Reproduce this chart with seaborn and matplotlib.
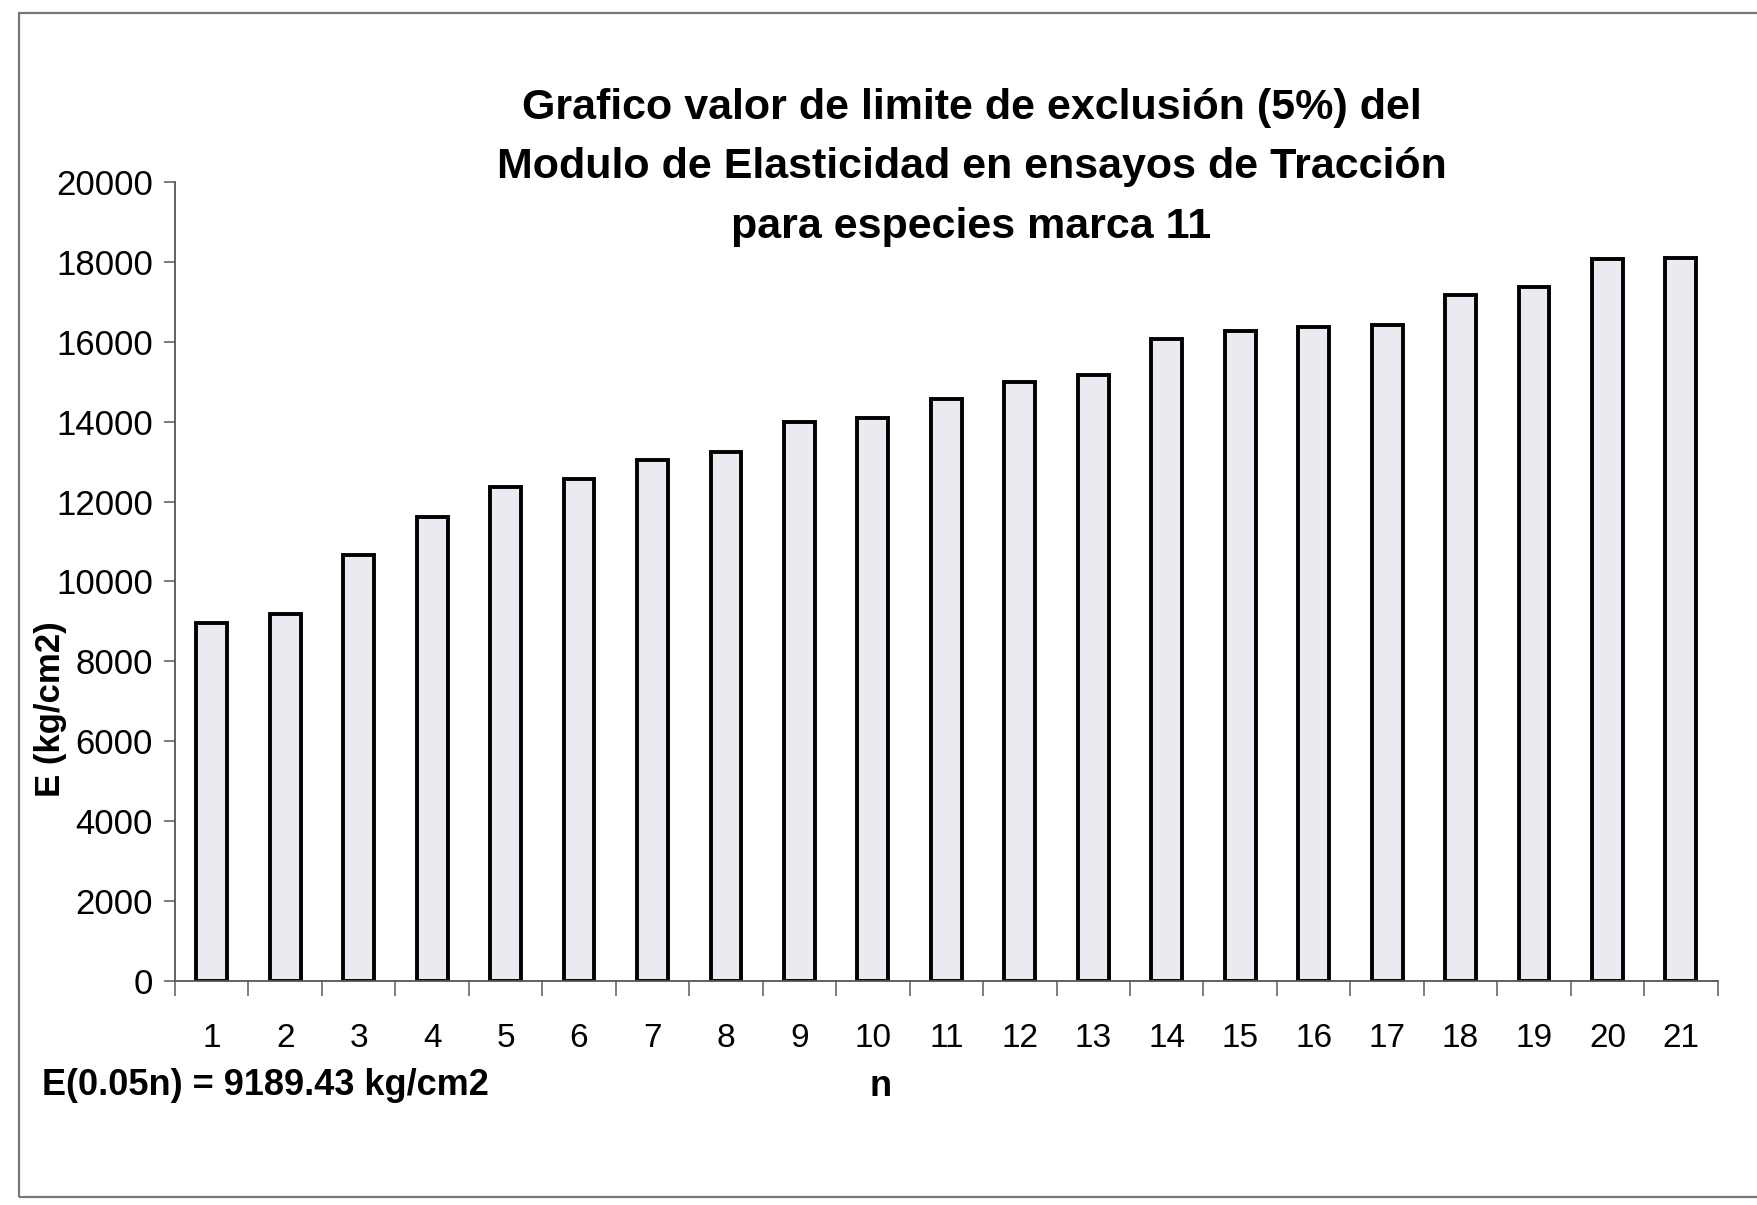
import matplotlib
matplotlib.use("Agg")
import matplotlib.pyplot as plt
from matplotlib import font_manager
from matplotlib.patches import Rectangle
from matplotlib.ticker import FixedLocator, NullFormatter
import seaborn as sns
import pandas as pd

# Sample order and measured modulus of elasticity (kg/cm2), sorted ascending
n_labels = [str(i) for i in range(1, 22)]
e_values = [8950, 9190, 10650, 11600, 12370, 12560, 13040, 13240, 13980, 14090,
            14570, 15000, 15170, 16060, 16260, 16380, 16410, 17180, 17380, 18060, 18100]
y_ticks = [0, 2000, 4000, 6000, 8000, 10000, 12000, 14000, 16000, 18000, 20000]

title_text = ("Grafico valor de limite de exclusión (5%) del\n"
              "Modulo de Elasticidad en ensayos de Tracción\n"
              "para especies marca 11")
y_label = "E (kg/cm2)"
x_label = "n"
note_text = "E(0.05n) = 9189.43 kg/cm2"

sns.set_theme(style="white")
plt.rcParams["font.family"] = ["Liberation Sans", "DejaVu Sans"]
plt.rcParams["text.color"] = "black"
plt.rcParams["axes.labelcolor"] = "black"
plt.rcParams["xtick.color"] = "black"
plt.rcParams["ytick.color"] = "black"

available = {f.name for f in font_manager.fontManager.ttflist}
narrow = ["Liberation Sans Narrow", "Liberation Sans", "DejaVu Sans"] \
    if "Liberation Sans Narrow" in available else ["Liberation Sans", "DejaVu Sans"]

df = pd.DataFrame({"n": n_labels, "E": e_values})

fig = plt.figure(figsize=(17.57, 12.05), dpi=100)
fig.patch.set_facecolor("white")
ax = fig.add_axes([0.0996, 0.186, 0.878, 0.663])

sns.barplot(data=df, x="n", y="E", order=n_labels, color="#EDE9F1",
            saturation=1, edgecolor="black", linewidth=2.8, width=0.42, ax=ax)

ax.set_xlim(-0.5, len(n_labels) - 0.5)
ax.set_ylim(0, 20000)
ax.set_yticks(y_ticks)
ax.set_yticklabels([str(v) for v in y_ticks])

# category labels centred, tick marks on the category boundaries
ax.tick_params(axis="x", which="major", length=0, pad=30, labelsize=24,
               labelcolor="black")
ax.xaxis.set_minor_locator(FixedLocator([i - 0.5 for i in range(len(n_labels) + 1)]))
ax.xaxis.set_minor_formatter(NullFormatter())
ax.tick_params(axis="x", which="minor", bottom=True, length=11, width=1.2,
               color="#666666", direction="out")
ax.tick_params(axis="y", left=True, length=8, width=1.2, color="#666666",
               direction="out", pad=8, labelsize=25, labelcolor="black")

for side in ("top", "right"):
    ax.spines[side].set_visible(False)
for side in ("left", "bottom"):
    ax.spines[side].set_color("#555555")
    ax.spines[side].set_linewidth(1.3)

ax.set_xlabel("")
ax.set_ylabel(y_label, fontsize=25, fontweight="bold", labelpad=4, color="black")
ax.yaxis.set_label_coords(-0.07, 0.34)
ax.grid(False)

fig.text(0.553, 0.861, title_text, ha="center", va="center", fontsize=31,
         fontweight="bold", linespacing=1.62, color="black")
fig.text(0.501, 0.098, x_label, ha="center", va="center", fontsize=26,
         fontweight="bold", color="black")
fig.text(0.024, 0.099, note_text, ha="left", va="center", fontsize=26,
         fontweight="bold", family=narrow, color="black")

# outer frame of the chart area
fig.patches.append(Rectangle((0.011, 0.007), 1.2, 0.982, transform=fig.transFigure,
                             fill=False, edgecolor="#777777", linewidth=1.6))

fig.savefig("out.png", dpi=100, facecolor="white")
